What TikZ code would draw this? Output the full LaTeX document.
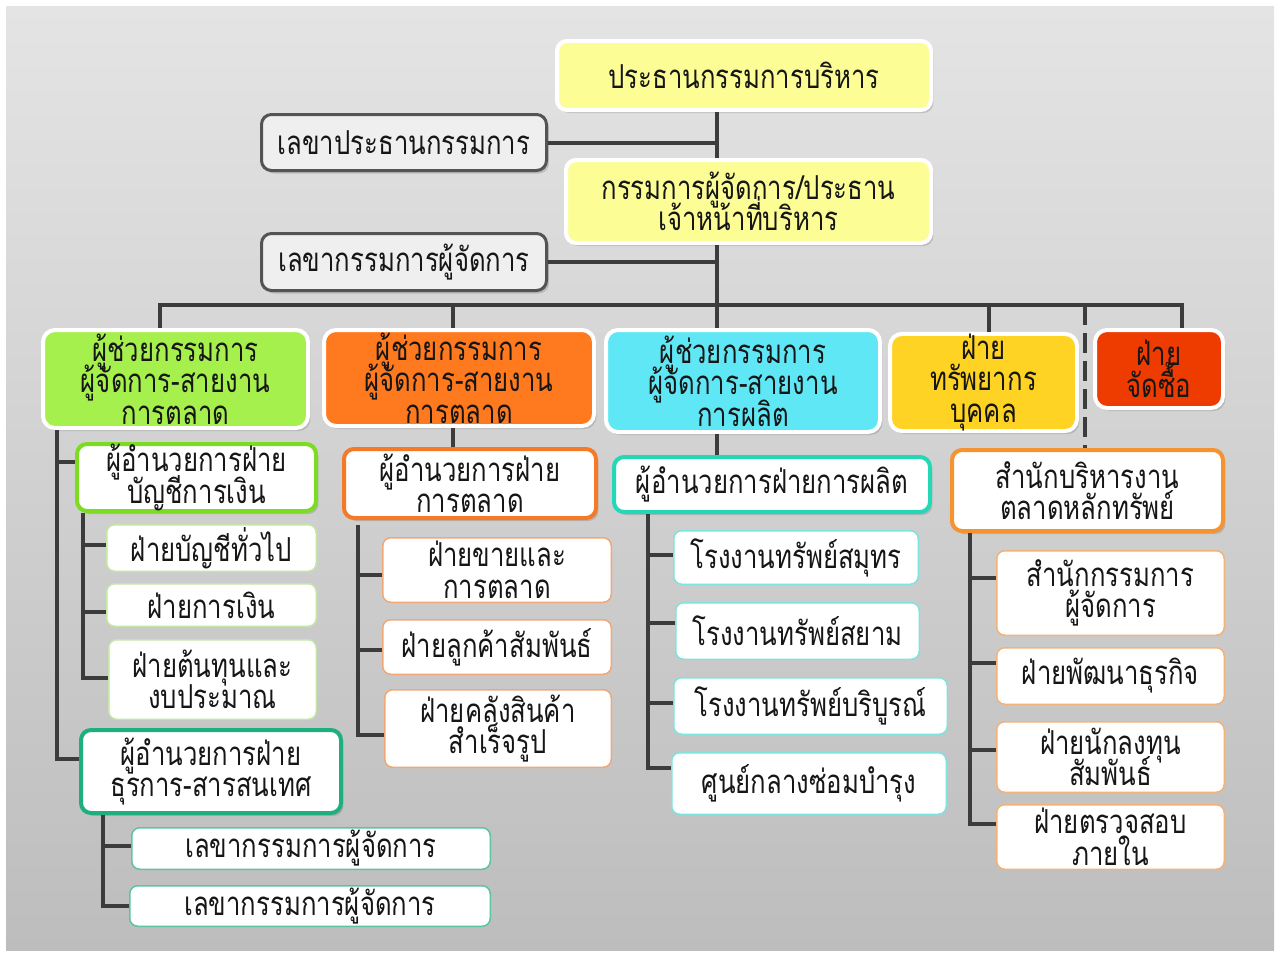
\documentclass[tikz,border=0pt]{standalone}
\usepackage{fontspec}
\newfontfamily\thai[Script=Thai,FakeStretch=0.78]{Loma}
\usetikzlibrary{shadows,calc}
\setlength{\lineskiplimit}{-100pt}
\definecolor{cLine}{HTML}{3C3C3C}
\definecolor{cTxt}{HTML}{161616}
\definecolor{cTop}{HTML}{FDFD96}
\definecolor{cSecF}{HTML}{EFEFEF}
\definecolor{cSecD}{HTML}{545454}
\definecolor{cGreen}{HTML}{A6F04E}
\definecolor{cOrange}{HTML}{FF7A1F}
\definecolor{cCyan}{HTML}{60E7F5}
\definecolor{cYellow}{HTML}{FFD324}
\definecolor{cRed}{HTML}{EE3B00}
\definecolor{bGreen}{HTML}{7CDC22}
\definecolor{sGreen}{HTML}{C6E6A8}
\definecolor{bTeal}{HTML}{1FAE7E}
\definecolor{sTeal}{HTML}{5CC5A0}
\definecolor{bOrange}{HTML}{F57A28}
\definecolor{sOrange}{HTML}{F0A878}
\definecolor{bCyan}{HTML}{25D8B5}
\definecolor{sCyan}{HTML}{7FE3DE}
\definecolor{bStock}{HTML}{F59331}
\definecolor{sStock}{HTML}{F2B278}
\definecolor{bgTop}{HTML}{E5E4E5}
\definecolor{bgBot}{HTML}{BDBDBD}
\tikzset{
  wh/.style 2 args={minimum width=#1pt, minimum height=#2pt},
  base/.style={rounded corners=5pt, align=center, inner sep=0pt, text=cTxt,
    font=\thai\fontsize{16.5pt}{15.75pt}\selectfont},
  shd/.style={drop shadow={shadow xshift=1.2pt, shadow yshift=-1.5pt, opacity=0.35}},
  topbox/.style={base, fill=cTop, draw=white, line width=2pt, shd},
  secbox/.style={base, fill=cSecF, draw=cSecD, line width=1.5pt, shd},
  lvl/.style={base, rounded corners=6pt, fill=#1, draw=white, line width=2pt, shd},
  dir/.style={base, fill=white, draw=#1, line width=2pt, shd},
  sub/.style={base, rounded corners=4pt, fill=white, draw=#1, line width=0.75pt},
  conn/.style={draw=cLine, line width=2pt},
  dconn/.style={draw=cLine, line width=2pt, dash pattern=on 10pt off 4pt},
}
\begin{document}
\begin{tikzpicture}[x=0.5pt,y=-0.5pt]
\useasboundingbox (0,0) rectangle (1280,953);
\fill[white] (0,0) rectangle (1280,953);
\shade[top color=bgTop, bottom color=bgBot] (6,6) rectangle (1274,950);

% coordinates
\coordinate (T) at (717,305);
\coordinate (busL) at (160,305);
\coordinate (busR) at (1182,305);
\coordinate (xo) at (453,305);
\coordinate (xy) at (989,305);
\coordinate (xd) at (1085,305);
\coordinate (gx) at (57,0);
\coordinate (gsx) at (83,0);
\coordinate (tsx) at (103,0);
\coordinate (osx) at (358,0);
\coordinate (csx) at (648,0);
\coordinate (ssx) at (970,0);

% top
\node[topbox, wh={187}{34.5}] (chair) at (744,75.5) {ประธานกรรมการบริหาร};
\node[secbox, wh={142.5}{28}] (sec1) at (404,142.5) {เลขาประธานกรรมการ};
\node[topbox, wh={182.5}{41.5}] (md) at (748.5,201.5) {กรรมการผู้จัดการ/ประธาน\\เจ้าหน้าที่บริหาร};
\node[secbox, wh={142.5}{28.5}] (sec2) at (404,262) {เลขากรรมการผู้จัดการ};

% level 2
\node[lvl=cGreen, wh={132.5}{49}] (g) at (175.5,379) {ผู้ช่วยกรรมการ\\ผู้จัดการ-สายงาน\\การตลาด};
\node[lvl=cOrange, wh={135}{48}] (o) at (459,378) {ผู้ช่วยกรรมการ\\ผู้จัดการ-สายงาน\\การตลาด};
\node[lvl=cCyan, wh={137}{51}] (c) at (743,381) {ผู้ช่วยกรรมการ\\ผู้จัดการ-สายงาน\\การผลิต};
\node[lvl=cYellow, wh={93.5}{48.5}] (yb) at (983.5,382.5) {ฝ่าย\\ทรัพยากร\\บุคคล};
\node[lvl=cRed, wh={64}{39}] (r) at (1159,369) {ฝ่าย\\จัดซื้อ};

% directors
\node[dir=bGreen, wh={119.5}{33.5}] (gad1) at (196.5,477.5) {ผู้อำนวยการฝ่าย\\บัญชีการเงิน};
\node[dir=bTeal, wh={130}{41.5}] (gad2) at (211,771.5) {ผู้อำนวยการฝ่าย\\ธุรการ-สารสนเทศ};
\node[dir=bOrange, wh={126}{34.5}] (oad) at (470,483.5) {ผู้อำนวยการฝ่าย\\การตลาด};
\node[dir=bCyan, wh={158}{27.5}] (cad) at (772,484.5) {ผู้อำนวยการฝ่ายการผลิต};
\node[dir=bStock, wh={135.5}{40.5}] (sad) at (1087.5,490.5) {สำนักบริหารงาน\\ตลาดหลักทรัพย์};

% subs
\node[sub=sGreen, wh={104.75}{23.25}] (gs1) at (211.5,548) {ฝ่ายบัญชีทั่วไป};
\node[sub=sGreen, wh={104.75}{21.25}] (gs2) at (211.5,605) {ฝ่ายการเงิน};
\node[sub=sGreen, wh={103.75}{39.75}] (gs3) at (212.5,679.5) {ฝ่ายต้นทุนและ\\งบประมาณ};
\node[sub=sTeal, wh={179.25}{20.75}] (ts1) at (311,848.5) {เลขากรรมการผู้จัดการ};
\node[sub=sTeal, wh={180.25}{20.25}] (ts2) at (310,906) {เลขากรรมการผู้จัดการ};
\node[sub=sOrange, wh={114.25}{32.25}] (os1) at (497,570) {ฝ่ายขายและ\\การตลาด};
\node[sub=sOrange, wh={114.25}{27.25}] (os2) at (497,647) {ฝ่ายลูกค้าสัมพันธ์};
\node[sub=sOrange, wh={113.25}{38.75}] (os3) at (498,728.5) {ฝ่ายคลังสินค้า\\สำเร็จรูป};
\node[sub=sCyan, wh={122.25}{26.75}] (cs1) at (796,557.5) {โรงงานทรัพย์สมุทร};
\node[sub=sCyan, wh={121.75}{28.25}] (cs2) at (797.5,631) {โรงงานทรัพย์สยาม};
\node[sub=sCyan, wh={136.75}{28.25}] (cs3) at (810.5,706) {โรงงานทรัพย์บริบูรณ์};
\node[sub=sCyan, wh={137.25}{30.75}] (cs4) at (809,783.5) {ศูนย์กลางซ่อมบำรุง};
\node[sub=sStock, wh={113.75}{42.25}] (ss1) at (1110.5,593) {สำนักกรรมการ\\ผู้จัดการ};
\node[sub=sStock, wh={113.75}{28.25}] (ss2) at (1110.5,676) {ฝ่ายพัฒนาธุรกิจ};
\node[sub=sStock, wh={113.75}{35.25}] (ss3) at (1110.5,757) {ฝ่ายนักลงทุน\\สัมพันธ์};
\node[sub=sStock, wh={113.75}{32.25}] (ss4) at (1110.5,837) {ฝ่ายตรวจสอบ\\ภายใน};

% connectors
\draw[conn] (chair.south -| T) -- (md.north -| T);
\draw[conn] (sec1.east) -- (sec1.east -| T);
\draw[conn] (md.south -| T) -- (c.north -| T);
\draw[conn] (sec2.east) -- (sec2.east -| T);
\draw[conn] (g.north -| busL) -- (busL) -- (busR) -- (r.north -| busR);
\draw[conn] (xo) -- (o.north -| xo);
\draw[conn] (xy) -- (yb.north -| xy);
\draw[dconn] (xd) -- (sad.north -| xd);
% green
\draw[conn] (g.south -| gx) |- ([yshift=6.25pt]gad2.west);
\draw[conn] ([yshift=7.75pt]gad1.west) -- ([yshift=7.75pt]gad1.west -| gx);
\draw[conn] (gad1.south -| gsx) |- ([yshift=0.75pt]gs3.west);
\draw[conn] ([yshift=1.5pt]gs1.west) -- ([yshift=1.5pt]gs1.west -| gsx);
\draw[conn] ([yshift=-3.5pt]gs2.west) -- ([yshift=-3.5pt]gs2.west -| gsx);
\draw[conn] (gad2.south -| tsx) |- (ts2.west);
\draw[conn] ([yshift=1.25pt]ts1.west) -- ([yshift=1.25pt]ts1.west -| tsx);
% orange
\draw[conn] (o.south -| xo) -- (oad.north -| xo);
\draw[conn] ([yshift=-2.5pt]oad.south -| osx) |- ([yshift=-3.25pt]os3.west);
\draw[conn] ([yshift=-2.5pt]os1.west) -- ([yshift=-2.5pt]os1.west -| osx);
\draw[conn] ([yshift=-1.5pt]os2.west) -- ([yshift=-1.5pt]os2.west -| osx);
% cyan
\draw[conn] (c.south -| T) -- (cad.north -| T);
\draw[conn] (cad.south -| csx) |- ([yshift=7.75pt]cs4.west);
\draw[conn] ([yshift=1.25pt]cs1.west) -- ([yshift=1.25pt]cs1.west -| csx);
\draw[conn] ([yshift=4pt]cs2.west) -- ([yshift=4pt]cs2.west -| csx);
\draw[conn] ([yshift=1.5pt]cs3.west) -- ([yshift=1.5pt]cs3.west -| csx);
% stock
\draw[conn] (sad.south -| ssx) |- ([yshift=6.5pt]ss4.west);
\draw[conn] ([yshift=7.5pt]ss1.west) -- ([yshift=7.5pt]ss1.west -| ssx);
\draw[conn] ([yshift=6.5pt]ss2.west) -- ([yshift=6.5pt]ss2.west -| ssx);
\draw[conn] ([yshift=3.5pt]ss3.west) -- ([yshift=3.5pt]ss3.west -| ssx);
\end{tikzpicture}
\end{document}
